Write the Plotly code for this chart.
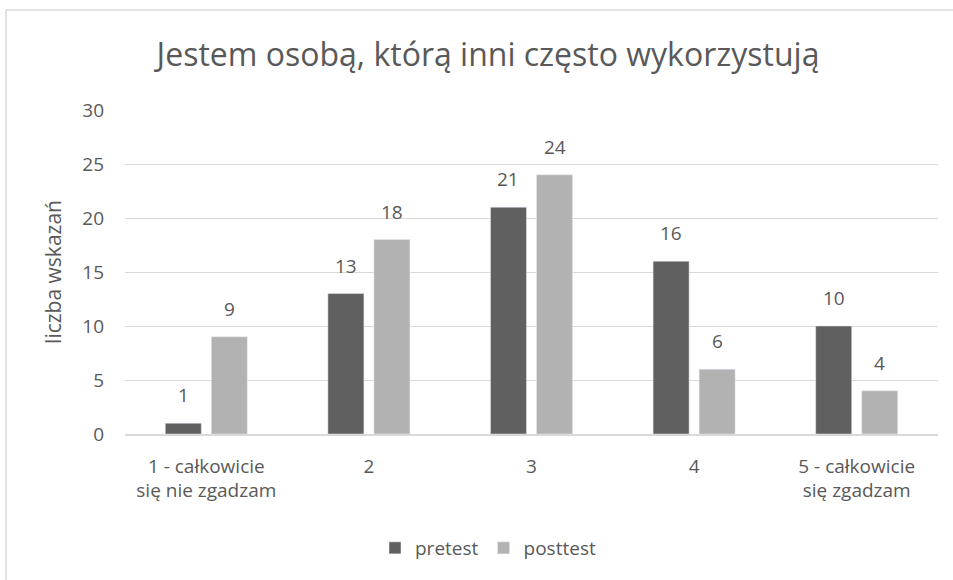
import plotly.graph_objects as go

categories = ["1 - całkowicie<br>się nie zgadzam", "2", "3", "4", "5 - całkowicie<br>się zgadzam"]
pretest = [1, 13, 21, 16, 10]
posttest = [9, 18, 24, 6, 4]
y_ticks = [0, 5, 10, 15, 20, 25, 30]

W, H = 953, 580
L, R, T, B = 125, 15, 110, 146
pw, ph = W - L - R, H - T - B

BARGAP, BARGROUPGAP = 0.434, 0.217

def px_x(x):
    return (x - L) / pw

def px_y(y):
    return (H - B - y) / ph

FONT = "Open Sans"
TXT = "#595959"

fig = go.Figure()
fig.add_trace(go.Bar(name="pretest", x=categories, y=pretest, marker_color="#606060"))
fig.add_trace(go.Bar(name="posttest", x=categories, y=posttest, marker_color="#b2b2b2"))

# data labels above bars (x given as category index)
slot = pw / len(categories) * (1 - BARGAP) / 2
annotations = []
for vals, sign in ((pretest, -1), (posttest, 1)):
    for i, v in enumerate(vals):
        annotations.append(dict(x=i, y=v, xref="x", yref="y", text=str(v), showarrow=False,
                                xshift=sign * slot / 2, yshift=28, yanchor="middle",
                                font=dict(size=19, color=TXT, family=FONT)))

fig.update_layout(
    width=W, height=H,
    margin=dict(l=L, r=R, t=T, b=B),
    paper_bgcolor="white", plot_bgcolor="white",
    barmode="group", bargap=BARGAP, bargroupgap=BARGROUPGAP,
    font=dict(family=FONT, color=TXT, size=19),
    title=dict(text="Jestem osobą, którą inni często wykorzystują",
               x=488 / W, xanchor="center", y=1 - 55 / H, yanchor="middle",
               font=dict(size=32, color=TXT, family=FONT)),
    showlegend=True,
    legend=dict(orientation="h", x=px_x(488), xanchor="center", y=px_y(548), yanchor="middle",
                font=dict(size=19, color=TXT, family=FONT), itemwidth=30, traceorder="normal"),
    xaxis=dict(showgrid=False, showline=True, linecolor="#d9d9d9", linewidth=1.5,
               ticks="", ticklabelstandoff=14, tickfont=dict(size=19, color=TXT, family=FONT)),
    yaxis=dict(range=[0, 30], tickvals=y_ticks, showgrid=True, gridcolor="#d9d9d9", gridwidth=1,
               zeroline=False, showline=False, ticks="", ticklabelstandoff=20,
               tickfont=dict(size=19, color=TXT, family=FONT),
               title=dict(text="liczba wskazań", standoff=14,
                          font=dict(size=21, color=TXT, family=FONT))),
    annotations=annotations,
    shapes=[dict(type="rect", xref="paper", yref="paper",
                 x0=px_x(6), x1=px_x(W + 20), y0=px_y(H + 20), y1=px_y(10),
                 line=dict(color="#d9d9d9", width=1.5), fillcolor="rgba(0,0,0,0)", layer="below")],
)

fig.write_html("out.html", config={"displayModeBar": False},
               post_script="document.body.style.margin='0';document.body.style.overflow='hidden';")
